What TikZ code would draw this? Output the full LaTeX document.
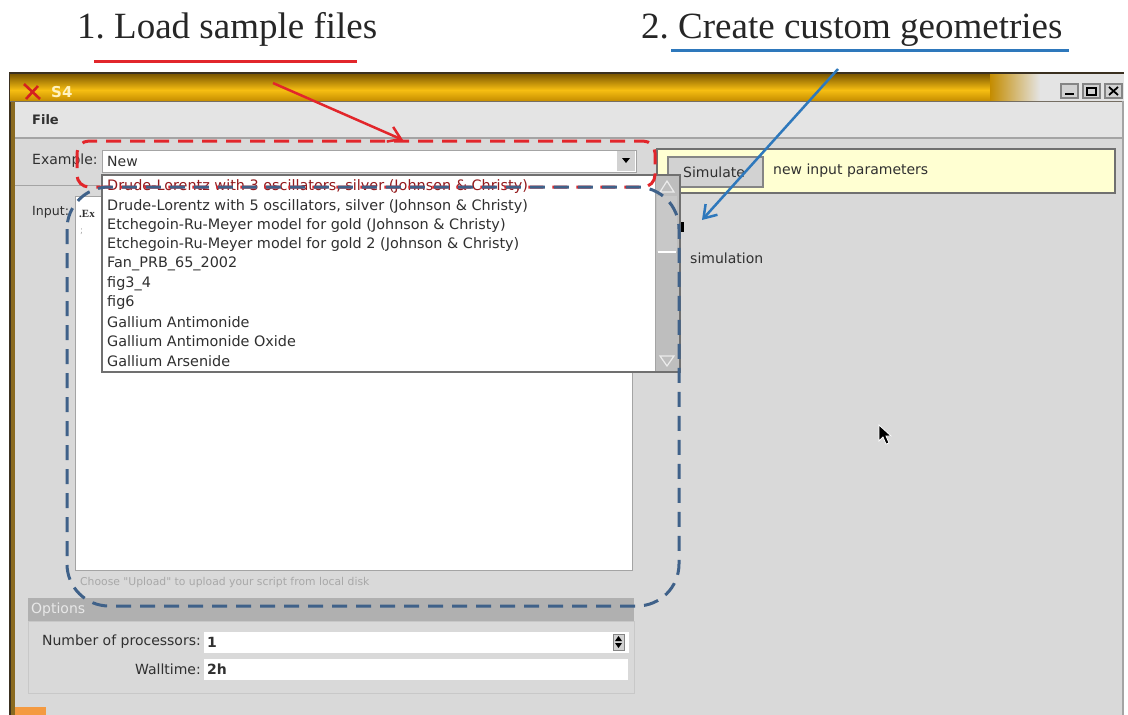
\documentclass[tikz,border=0pt]{standalone}
\usepackage{fontspec}
\setmainfont{Liberation Serif}
\newfontfamily\guifont{DejaVu Sans}
\usetikzlibrary{arrows.meta}
\definecolor{titletext}{HTML}{262626}
\definecolor{annored}{HTML}{E2262B}
\definecolor{annoblue}{HTML}{2E78BC}
\definecolor{dashblue}{HTML}{3F6189}
\definecolor{panelgrey}{HTML}{D9D9D9}
\definecolor{menugrey}{HTML}{E4E4E4}
\definecolor{linegrey}{HTML}{A4A4A4}
\definecolor{guitext}{HTML}{303030}
\definecolor{hintgrey}{HTML}{A8A8A8}
\definecolor{headergrey}{HTML}{B0B0B0}
\definecolor{headertext}{HTML}{E8E8E8}
\definecolor{simyellow}{HTML}{FFFFD2}
\definecolor{btngrey}{HTML}{D2D2D2}
\definecolor{btnline}{HTML}{858585}
\definecolor{boxline}{HTML}{707070}
\definecolor{scrollgrey}{HTML}{BEBEBE}
\definecolor{thumbgrey}{HTML}{C8C8C8}
\definecolor{bartop}{HTML}{7E5800}
\definecolor{barmid}{HTML}{F6BE12}
\definecolor{barbot}{HTML}{C48C00}
\definecolor{framedark}{HTML}{3A3020}
\definecolor{borderbrown}{HTML}{8A6A20}
\definecolor{stext}{HTML}{FFF2C0}
\definecolor{iconred}{HTML}{D42020}

\begin{document}
\begin{tikzpicture}[x=1pt,y=-1pt,font=\guifont\fontsize{14}{16}\selectfont]
% Styles for the window parts and the notes on top
\tikzstyle{gui text}=[inner sep=0,anchor=west,text=guitext];
\tikzstyle{label text}=[inner sep=0,anchor=east,text=guitext];
\tikzstyle{list entry}=[gui text,font=\guifont\fontsize{14.4}{16}\selectfont];
\tikzstyle{field}=[fill=white,draw=linegrey,line width=0.8];
\tikzstyle{title}=[inner sep=0,anchor=base west,text=titletext,font=\frenchspacing\fontsize{37}{40}\selectfont];
\tikzstyle{red dash}=[draw=annored,line width=3,dash pattern=on 15pt off 9pt];
\tikzstyle{blue dash}=[draw=dashblue,line width=3,dash pattern=on 15pt off 9pt];
\tikzstyle{red arrow}=[draw=annored,line width=2.5,-{Straight Barb[length=12pt,width=16pt]}];
\tikzstyle{blue arrow}=[draw=annoblue,line width=2.5,-{Straight Barb[length=12pt,width=16pt]}];
\useasboundingbox (0,0) rectangle (1128,715);
\fill[white] (0,0) rectangle (1128,715);
% The window
\fill[panelgrey] (10,73) rectangle (1124,715);
\fill[borderbrown] (10,73) rectangle (15,715);
\draw[framedark,line width=1.2] (10,73) -- (10,715);
\draw[framedark,line width=1.5] (9,73) -- (1124,73);
\shade[top color=bartop,bottom color=barmid] (10,74) rectangle (990,90);
\shade[top color=barmid,bottom color=barbot] (10,90) rectangle (990,101);
\shade[left color=barbot,right color=menugrey] (990,74) rectangle (1040,101);
\fill[menugrey] (1040,74) rectangle (1124,101);
\draw[framedark!70,line width=1] (10,101) -- (1124,101);
\draw[iconred,line width=2.6] (24,84) -- (40,99) (26,99) -- (38,86);
\node[inner sep=0,anchor=west,text=stext,font=\guifont\bfseries\fontsize{15}{16}\selectfont] (appname) at (51,92) {S4};
\foreach \bx in {1061,1083,1105}
\draw[fill=btngrey,draw=btnline,line width=1.2] (\bx,84) rectangle +(17,14);
\draw[black,line width=2] (1065,94) -- (1074,94);
\draw[black,line width=1.3] (1087,88) rectangle (1096,95);
\draw[black,line width=2] (1087,88) -- (1096,88);
\draw[black,line width=1.8] (1109,87) -- (1118,95) (1109,95) -- (1118,87);
% Menu bar
\fill[menugrey] (15,102) rectangle (1123,138);
\draw[linegrey,line width=1.2] (15,138) -- (1123,138);
\draw[linegrey,line width=1.2] (1123,101) -- (1123,715);
\node[gui text,font=\guifont\bfseries\fontsize{13}{15}\selectfont] (filemenu) at (32,120) {File};
% Example row
\node[gui text] (examplelabel) at (32,161) {Example:};
\draw[field] (102,150) rectangle (636,172);
\node[gui text] (newentry) at (107,161) {New};
\fill[btngrey] (617,151) rectangle (635,171);
\fill[black] (622,158) -- (630,158) -- (626,163) -- cycle;
\draw[linegrey] (15,185) -- (100,185);
% Input area
\node[gui text,font=\guifont\fontsize{12.6}{14}\selectfont] (inputlabel) at (32,212) {Input:};
\draw[field] (75,196) rectangle (632,570);
\node[gui text,font=\bfseries\fontsize{11}{12}\selectfont] (scriptstart) at (79,214) {.Ex};
\node[gui text,text=hintgrey,font=\guifont\fontsize{9}{10}\selectfont] (scriptnext) at (80,232) {;};
\node[gui text,text=hintgrey,font=\guifont\fontsize{10.8}{12}\selectfont] (hint) at (80,583) {Choose "Upload" to upload your script from local disk};
% Options panel
\fill[headergrey] (28,598) rectangle (634,621);
\node[gui text,text=headertext] (optionshead) at (31,610) {Options};
\draw[draw=linegrey!60] (28,621) rectangle (634,693);
\node[label text] (proclabel) at (201,642) {Number of processors:};
\draw[field,draw=white] (204,632) rectangle (628,652);
\node[gui text,font=\guifont\bfseries\fontsize{14}{16}\selectfont] (procvalue) at (207,642) {1};
\draw[btnline,fill=btngrey] (613,634) rectangle (624,650);
\fill[black] (615,641) -- (622,641) -- (618.5,636) -- cycle;
\fill[black] (615,643) -- (622,643) -- (618.5,648) -- cycle;
\node[label text] (walllabel) at (201,669) {Walltime:};
\draw[field,draw=white] (204,659) rectangle (627,679);
\node[gui text,font=\guifont\bfseries\fontsize{14}{16}\selectfont] (wallvalue) at (207,669) {2h};
\fill[orange!70!panelgrey] (15,707) rectangle (46,715);
% Simulate row
\draw[fill=simyellow,draw=boxline,line width=1.5] (657,149) rectangle (1115,193);
\draw[fill=btngrey,draw=btnline,line width=1.2] (668,157) rectangle (763,187);
\node[gui text] (simulate) at (683,172) {Simulate};
\node[gui text] (simnote) at (773,171) {new input parameters};
\node[gui text] (simulation) at (690,258) {simulation};
\fill[black] (680,222) rectangle (684,232);
\draw[white,line width=0.8,fill=black] (879,425) -- (879,441) -- (883,437) -- (886,444) -- (889,443) -- (886,436) -- (891,436) -- cycle;
% The drop-down list
\draw[field,draw=boxline,line width=1.2] (102,175) rectangle (680,372);
\fill[scrollgrey] (655,176) rectangle (679,371);
\draw[linegrey] (655,176) -- (655,371);
\fill[thumbgrey] (657,196) rectangle (677,252);
\draw[white,line width=1.5] (658,252) -- (676,252);
\draw[white!85!gray,line width=1.2] (660,192) -- (667,181) -- (674,192) -- cycle;
\draw[white!85!gray,line width=1.2] (660,356) -- (674,356) -- (667,366) -- cycle;
\node[list entry,text=annored!65!black] (entry0) at (107,187) {Drude-Lorentz with 3 oscillators, silver (Johnson \& Christy)};
\foreach \entry [count=\n from 1] in {{Drude-Lorentz with 5 oscillators, silver (Johnson \& Christy)},
{Etchegoin-Ru-Meyer model for gold (Johnson \& Christy)},
{Etchegoin-Ru-Meyer model for gold 2 (Johnson \& Christy)},
Fan\_PRB\_65\_2002,fig3\_4,fig6,Gallium Antimonide,Gallium Antimonide Oxide,Gallium Arsenide}
\node[list entry] (entry\n) at (107,{187+19.3*\n}) {\entry};
% Notes drawn over the screenshot
\draw[red dash,rounded corners=12] (77,141) rectangle (655,187);
\draw[blue dash,rounded corners=42] (67,187) rectangle (679,606);
\node[title] (load) at (77,38) {1. Load sample files};
\node[title] (create) at (641,38) {2. Create custom geometries};
\draw[annored,line width=3] (94,61) -- (357,61);
\draw[annoblue,line width=3] (671,50) -- (1069,50);
\coordinate (load tail) at (273,83);
\coordinate (load tip) at (403,140);
\coordinate (create tail) at (838,69);
\coordinate (create tip) at (702,220);
\draw[red arrow] (load tail) -- (load tip);
\draw[blue arrow] (create tail) -- (create tip);
\end{tikzpicture}
\end{document}
